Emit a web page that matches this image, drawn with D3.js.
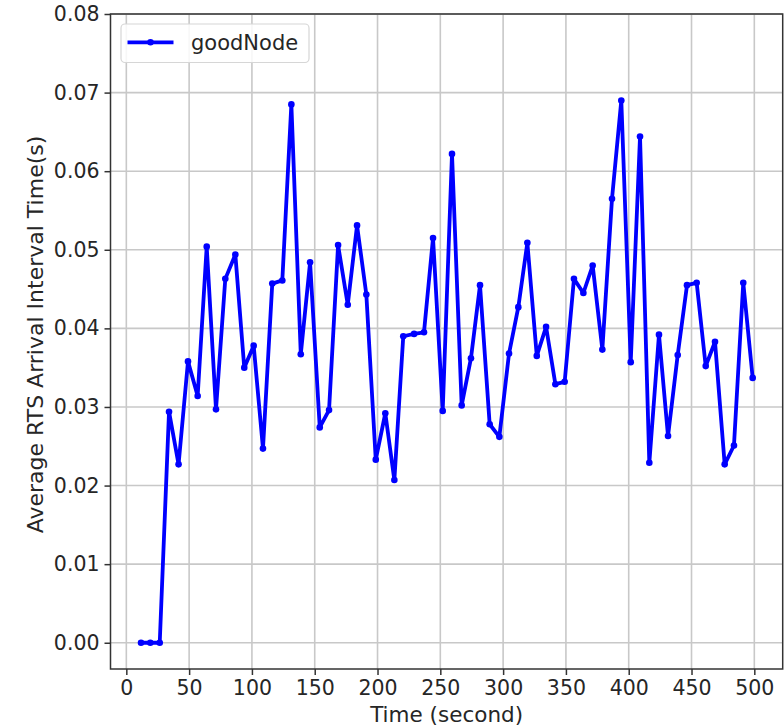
<!DOCTYPE html>
<html>
<head>
<meta charset="utf-8">
<script src="https://cdn.jsdelivr.net/npm/d3@7"></script>
<style>
  html, body { margin: 0; padding: 0; background: #fff; }
  svg { display: block; }
  text { font-family: "DejaVu Sans", sans-serif; fill: #262626; }
</style>
</head>
<body>
<svg id="chart" width="784" height="728"></svg>
<script>
// Sample times (s) for the goodNode series
const times = [11.7, 19.1, 26.6, 34.0, 41.6, 49.1, 56.8, 64.0, 71.4, 78.8,
  86.8, 93.9, 101.4, 108.8, 116.2, 124.2, 131.4, 138.9, 146.3, 154.0,
  161.4, 168.6, 176.3, 183.7, 191.1, 198.6, 206.2, 213.4, 220.5, 229.1,
  237.0, 244.2, 251.9, 259.3, 267.0, 274.4, 281.6, 289.3, 297.0, 304.7,
  312.1, 319.3, 326.8, 334.2, 341.6, 349.0, 356.4, 363.9, 371.3, 379.0,
  386.7, 394.1, 401.6, 409.0, 416.4, 424.1, 431.3, 439.0, 446.4, 454.1,
  461.3, 468.7, 476.4, 483.8, 491.2, 498.7];

// Average RTS arrival interval (s) at each sample time
const goodNode = [0, 0, 0, 0.0294, 0.0227, 0.0358, 0.0314, 0.0504, 0.0297, 0.0463,
  0.0494, 0.0350, 0.0378, 0.0247, 0.0457, 0.0461, 0.0685, 0.0367, 0.0484, 0.0274,
  0.0296, 0.0506, 0.0430, 0.0531, 0.0443, 0.0233, 0.0292, 0.0207, 0.0390, 0.0393,
  0.0395, 0.0515, 0.0295, 0.0622, 0.0302, 0.0362, 0.0455, 0.0278, 0.0262, 0.0368,
  0.0427, 0.0509, 0.0365, 0.0402, 0.0329, 0.0332, 0.0463, 0.0445, 0.0480, 0.0373,
  0.0565, 0.0690, 0.0357, 0.0644, 0.0229, 0.0392, 0.0263, 0.0366, 0.0455, 0.0458,
  0.0352, 0.0383, 0.0227, 0.0251, 0.0458, 0.0337];

const xTicks = [0, 50, 100, 150, 200, 250, 300, 350, 400, 450, 500];
const yTicks = [0, 0.01, 0.02, 0.03, 0.04, 0.05, 0.06, 0.07, 0.08];
const seriesName = "goodNode";
const xLabel = "Time (second)";
const yLabel = "Average RTS Arrival Interval Time(s)";

const svg = d3.select("#chart");
const plot = { left: 110.5, right: 782.7, top: 14, bottom: 669 };

const x = d3.scaleLinear().domain([-12.6, 522.6]).range([plot.left, plot.right]);
const y = d3.scaleLinear().domain([-0.00334, 0.08]).range([plot.bottom, plot.top]);

// grid
const grid = svg.append("g").attr("stroke", "#c8c8c8").attr("stroke-width", 1.6);
grid.selectAll("line.gx").data(xTicks).join("line")
  .attr("x1", d => x(d)).attr("x2", d => x(d))
  .attr("y1", plot.top).attr("y2", plot.bottom);
grid.selectAll("line.gy").data(yTicks).join("line")
  .attr("x1", plot.left).attr("x2", plot.right)
  .attr("y1", d => y(d)).attr("y2", d => y(d));

// axes
const xAxis = svg.append("g")
  .attr("transform", `translate(0,${plot.bottom})`)
  .call(d3.axisBottom(x).tickValues(xTicks).tickSize(6).tickPadding(5).tickFormat(d3.format("d")));
const yAxis = svg.append("g")
  .attr("transform", `translate(${plot.left},0)`)
  .call(d3.axisLeft(y).tickValues(yTicks).tickSize(6).tickPadding(5).tickFormat(d3.format(".2f")));
[xAxis, yAxis].forEach(a => {
  a.select(".domain").remove();
  a.selectAll(".tick line").attr("stroke", "#333").attr("stroke-width", 1.5);
  a.selectAll(".tick text").attr("font-size", 20.5).attr("fill", "#262626")
    .attr("font-family", "DejaVu Sans");
});

// frame
svg.append("rect")
  .attr("x", plot.left).attr("y", plot.top)
  .attr("width", plot.right - plot.left).attr("height", plot.bottom - plot.top)
  .attr("fill", "none").attr("stroke", "#333").attr("stroke-width", 1.5);

// series
const pts = times.map((t, i) => [t, goodNode[i]]);
const line = d3.line().x(d => x(d[0])).y(d => y(d[1]));
svg.append("path").datum(pts)
  .attr("d", line).attr("fill", "none")
  .attr("stroke", "#0000ff").attr("stroke-width", 3.8).attr("stroke-linejoin", "round");
svg.append("g").selectAll("circle").data(pts).join("circle")
  .attr("cx", d => x(d[0])).attr("cy", d => y(d[1])).attr("r", 3.3)
  .attr("fill", "#0000ff");

// legend
const lg = svg.append("g");
lg.append("rect").attr("x", 121).attr("y", 24).attr("width", 188).attr("height", 38.5)
  .attr("rx", 4).attr("fill", "#fff").attr("fill-opacity", 0.85)
  .attr("stroke", "#d6d6d6").attr("stroke-width", 1.2);
lg.append("line").attr("x1", 127.5).attr("x2", 173.5).attr("y1", 42.3).attr("y2", 42.3)
  .attr("stroke", "#0000ff").attr("stroke-width", 3.8);
lg.append("circle").attr("cx", 150.5).attr("cy", 42.3).attr("r", 3.3).attr("fill", "#0000ff");
lg.append("text").attr("x", 191).attr("y", 49.5).attr("font-size", 21).text(seriesName);

// axis labels
svg.append("text").attr("x", (plot.left + plot.right) / 2).attr("y", 721.5)
  .attr("text-anchor", "middle").attr("font-size", 21.5).text(xLabel);
svg.append("text")
  .attr("transform", `translate(43,${(plot.top + plot.bottom) / 2 - 7}) rotate(-90)`)
  .attr("text-anchor", "middle").attr("font-size", 22).text(yLabel);
</script>
</body>
</html>
